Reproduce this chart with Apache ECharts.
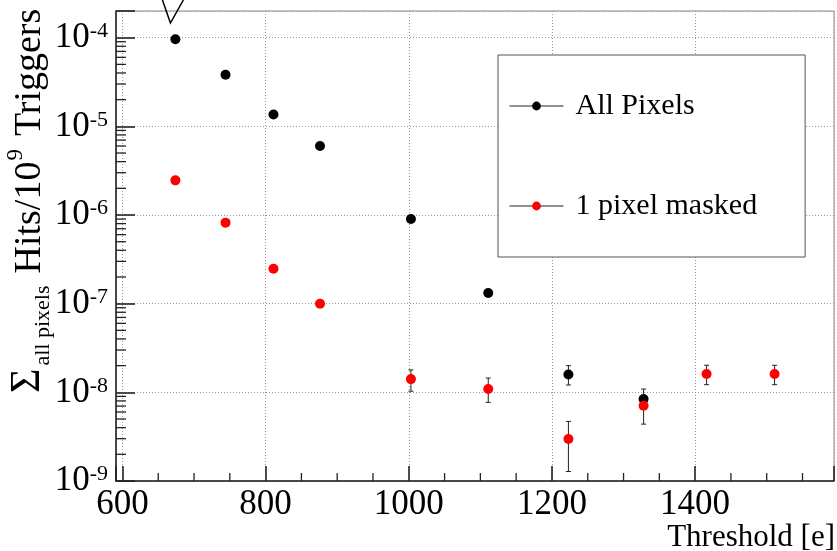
<!DOCTYPE html>
<html><head><meta charset="utf-8">
<script src="https://cdn.jsdelivr.net/npm/echarts@6/dist/echarts.min.js"></script>
<style>html,body{margin:0;padding:0;background:#fff}#c{width:837px;height:551px}</style>
</head><body><div id="c"></div><script>
// ---- data ----
const thresholdsAll = [674, 744, 811, 876, 1003, 1111, 1223, 1328];
const hitsAll       = [9.6e-5, 3.82e-5, 1.36e-5, 6.0e-6, 9.0e-7, 1.32e-7, 1.59e-8, 8.4e-9];
const errLowAll     = [null, null, null, null, null, null, 1.21e-8, 6.5e-9];
const errHighAll    = [null, null, null, null, null, null, 2.0e-8, 1.09e-8];

const thresholdsMasked = [674, 744, 811, 876, 1003, 1111, 1223, 1328, 1416, 1511];
const hitsMasked       = [2.46e-6, 8.2e-7, 2.48e-7, 1.0e-7, 1.41e-8, 1.09e-8, 2.97e-9, 7.05e-9, 1.61e-8, 1.61e-8];
const errLowMasked     = [null, null, null, null, 1.03e-8, 7.7e-9, 1.28e-9, 4.38e-9, 1.22e-8, 1.22e-8];
const errHighMasked    = [null, null, null, null, 1.79e-8, 1.45e-8, 4.7e-9, 9.0e-9, 2.02e-8, 2.02e-8];

const seriesNames = ['All Pixels', '1 pixel masked'];
const xMin = 591, xMax = 1594;
const yMin = 1e-9, yMax = 2e-4;
const xMajorLabels = [600, 800, 1000, 1200, 1400];
const xMinorStep = 50;
const yMinorMantissas = [2, 3, 4, 5, 6, 7, 8, 9];
const yDecades = [-9, -8, -7, -6, -5, -4];
const xTitle = 'Threshold [e]';

// ---- helpers ----
const FONT = "'Liberation Serif', 'DejaVu Serif', serif";
const TICK = '#222';
function pairs(xs, ys) { return xs.map((x, i) => [x, ys[i]]); }
function errRows(xs, lo, hi) {
  const r = [];
  xs.forEach((x, i) => { if (lo[i] != null) r.push([x, lo[i], hi[i]]); });
  return r;
}
const yMinorTicks = [];
yDecades.forEach(d => yMinorMantissas.forEach(m => {
  const v = m * Math.pow(10, d);
  if (v < yMax) yMinorTicks.push([xMin, v, v]);
}));
const xMinorTicks = [];
for (let v = Math.ceil(xMin / xMinorStep) * xMinorStep; v < xMax; v += xMinorStep) {
  if (v % 200 !== 0) xMinorTicks.push([v, yMin, yMin]);
}

function errRender(params, api) {
  const x = api.value(0), lo = api.value(1), hi = api.value(2);
  const p1 = api.coord([x, hi]), p2 = api.coord([x, lo]);
  const st = { stroke: '#222', lineWidth: 1 };
  return { type: 'group', children: [
    { type: 'line', shape: { x1: p1[0], y1: p1[1], x2: p2[0], y2: p2[1] }, style: st },
    { type: 'line', shape: { x1: p1[0] - 2.5, y1: p1[1], x2: p1[0] + 2.5, y2: p1[1] }, style: st },
    { type: 'line', shape: { x1: p2[0] - 2.5, y1: p2[1], x2: p2[0] + 2.5, y2: p2[1] }, style: st }
  ]};
}
function tickRender(dx, dy) {
  return function (params, api) {
    const p = api.coord([api.value(0), api.value(1)]);
    return { type: 'line', shape: { x1: p[0], y1: p[1], x2: p[0] + dx, y2: p[1] + dy },
      style: { stroke: TICK, lineWidth: 1.3 } };
  };
}

const chart = echarts.init(document.getElementById('c'), null, { renderer: 'canvas' });
const option = {
  backgroundColor: '#fff',
  animation: false,
  textStyle: { fontFamily: FONT },
  grid: { left: 116, right: 2, top: 11, bottom: 70, show: true, borderColor: '#888', borderWidth: 1, containLabel: false },
  legend: {
    data: seriesNames,
    orient: 'vertical',
    left: 498, top: 55,
    padding: [36, 48, 36, 11],
    itemGap: 70,
    itemWidth: 54, itemHeight: 11,
    backgroundColor: '#fff', borderColor: '#555', borderWidth: 1, borderRadius: 0,
    lineStyle: { color: '#222', width: 1, opacity: 1 },
    textStyle: { fontFamily: FONT, fontSize: 30, color: '#000', padding: [0, 0, 0, 7] }
  },
  xAxis: {
    type: 'value', min: xMin, max: xMax, splitNumber: 5,
    axisLine: { show: true, lineStyle: { color: '#222', width: 1.5 } },
    axisTick: { show: true, inside: true, length: 15, lineStyle: { color: TICK, width: 1.6 } },
    axisLabel: { fontFamily: FONT, fontSize: 35, color: '#000', margin: 6,
      formatter: v => (xMajorLabels.indexOf(v) >= 0 ? String(v) : '') },
    splitLine: { show: true, lineStyle: { type: [1, 2], color: '#999', width: 1 } }
  },
  yAxis: {
    type: 'log', logBase: 10, min: yMin, max: yMax,
    axisLine: { show: true, lineStyle: { color: '#222', width: 1.5 } },
    axisTick: { show: true, inside: true, length: 19, lineStyle: { color: TICK, width: 1.6 } },
    axisLabel: {
      margin: 8,
      formatter: v => {
        const l = Math.log10(v), e = Math.round(l);
        if (Math.abs(l - e) > 0.01) return '';
        return '{b|10}{s|' + e + '}';
      },
      rich: {
        b: { fontFamily: FONT, fontSize: 35, color: '#000' },
        s: { fontFamily: FONT, fontSize: 22, color: '#000', verticalAlign: 'top' }
      }
    },
    splitLine: { show: true, lineStyle: { type: [1, 2], color: '#999', width: 1 } }
  },
  series: [
    { type: 'custom', name: 'yMinorTicks', silent: true, z: 3,
      data: yMinorTicks, encode: { x: 0, y: [1, 2] }, renderItem: tickRender(10, 0) },
    { type: 'custom', name: 'xMinorTicks', silent: true, z: 3,
      data: xMinorTicks, encode: { x: 0, y: [1, 2] }, renderItem: tickRender(0, -8) },
    { type: 'custom', name: 'errAll', silent: true, z: 2, data: errRows(thresholdsAll, errLowAll, errHighAll),
      encode: { x: 0, y: [1, 2] }, renderItem: errRender },
    { type: 'custom', name: 'errMasked', silent: true, z: 2, data: errRows(thresholdsMasked, errLowMasked, errHighMasked),
      encode: { x: 0, y: [1, 2] }, renderItem: errRender },
    { type: 'line', name: seriesNames[0], data: pairs(thresholdsAll, hitsAll), symbol: 'circle', symbolSize: 10,
      showSymbol: true, itemStyle: { color: '#000' }, lineStyle: { opacity: 0, width: 0 }, z: 5 },
    { type: 'line', name: seriesNames[1], data: pairs(thresholdsMasked, hitsMasked), symbol: 'circle', symbolSize: 10,
      showSymbol: true, itemStyle: { color: '#ff0000' }, lineStyle: { opacity: 0, width: 0 }, z: 6 }
  ]
};
chart.setOption(option);

// ---- y-axis title (rotated, with sub/superscript) ----
const ctx = document.createElement('canvas').getContext('2d');
function tw(t, s) { ctx.font = s + 'px ' + FONT; return ctx.measureText(t).width; }
const pieces = [
  { t: 'Σ', s: 42, off: 0, gap: 3 },
  { t: 'all pixels', s: 22, off: 9, gap: 12 },
  { t: 'Hits/10', s: 38, off: 0, gap: 1 },
  { t: '9', s: 23, off: -18, gap: 13 },
  { t: 'Triggers', s: 38, off: 0, gap: 0 }
];
let pos = 0; const kids = [];
pieces.forEach(p => {
  kids.push({ type: 'text', x: pos, y: p.off - 0.3 * p.s,
    style: { text: p.t, font: p.s + 'px ' + FONT, fill: '#000', align: 'left', verticalAlign: 'middle' } });
  pos += tw(p.t, p.s) + p.gap;
});
const vPx = chart.convertToPixel({ xAxisIndex: 0, yAxisIndex: 0 }, [thresholdsAll[0], hitsAll[0]]);
chart.setOption({ graphic: [
  { type: 'group', x: 41, y: 393, rotation: Math.PI / 2, children: kids },
  { type: 'text', x: 835, y: 538, style: { text: xTitle, font: '31px ' + FONT, fill: '#000', align: 'right', verticalAlign: 'middle' } },
  { type: 'polyline', shape: { points: [[vPx[0] - 13, 0], [vPx[0] - 5, 23], [vPx[0] + 8, 0]] }, style: { stroke: '#000', lineWidth: 1.5, fill: null } }
]});
</script></body></html>
